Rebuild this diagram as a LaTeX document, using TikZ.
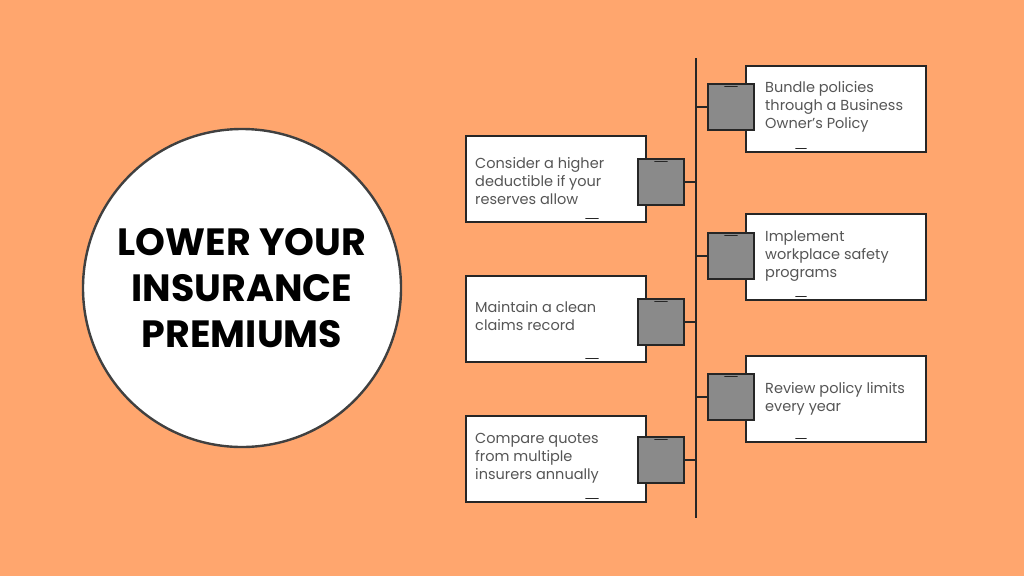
\documentclass[tikz,border=0pt]{standalone}
\usepackage{fontspec}
\setmainfont{Poppins}
\usetikzlibrary{positioning}
\definecolor{bgorange}{HTML}{FFA66E}
\definecolor{sqgray}{HTML}{8A8A8A}
\definecolor{txtgray}{HTML}{555555}
\tikzset{
  tip/.style={draw=black!85, line width=2.8pt, fill=white, minimum width=180pt, minimum height=86pt, inner sep=0pt},
  tiptext/.style={anchor=west, inner sep=0pt, align=left, font=\fontsize{14.5}{18}\selectfont, text=txtgray},
  tab/.style={draw=black!85, line width=2.8pt, fill=sqgray, minimum size=46pt, inner sep=0pt},
  link/.style={line width=2.6pt, black!85},
  scribble/.style={line width=1.6pt, black!85, line cap=round}
}
\begin{document}
\begin{tikzpicture}[x=1pt,y=-1pt]
\fill[bgorange] (0,0) rectangle (1024,576);
\useasboundingbox (0,0) rectangle (1024,576);

% title
\node (title) [circle, draw=black!75, line width=2.4pt, fill=white, minimum size=318pt, align=center,
  font=\bfseries\fontsize{38}{46}\selectfont] at (242,288) {LOWER YOUR\\INSURANCE\\PREMIUMS};

% spine
\coordinate (top) at (696,58);
\coordinate (bot) at (696,518);
\draw[link] (top) -- (bot);

% right side
\node (bundle) [tip] at (836,109) {};
\node (safety) [tip] at (836,257) {};
\node (limits) [tip] at (836,399) {};
\node (tbundle) [tiptext] at (765,107) {Bundle policies\\through a Business\\Owner’s Policy};
\node (tsafety) [tiptext] at (765,256) {Implement\\workplace safety\\programs};
\node (tlimits) [tiptext] at (765,399) {Review policy limits\\every year};

% left side
\node (deduct) [tip] at (556,179) {};
\node (claims) [tip] at (556,319) {};
\node (quotes) [tip] at (556,459) {};
\node (tdeduct) [tiptext] at (475,181) {Consider a higher\\deductible if your\\reserves allow};
\node (tclaims) [tiptext] at (475,316) {Maintain a clean\\claims record};
\node (tquotes) [tiptext] at (475,458) {Compare quotes\\from multiple\\insurers annually};

% tabs and links
\foreach \n/\x/\y in {bundle/731/107, safety/731/256, limits/731/397} {
  \coordinate (s\n) at (696,\y);
  \node (q\n) [tab] at (\x,\y) {};
  \draw[link] (s\n) -- (q\n.west);
  \draw[scribble] ([xshift=-6pt,yshift=-4pt]q\n.north) -- ([xshift=6pt,yshift=-4pt]q\n.north);
  \draw[scribble] ([xshift=-40pt,yshift=5pt]\n.south) -- ([xshift=-30pt,yshift=5pt]\n.south);
}
\foreach \n/\x/\y in {deduct/661/182, claims/661/322, quotes/661/460} {
  \coordinate (s\n) at (696,\y);
  \node (q\n) [tab] at (\x,\y) {};
  \draw[link] (q\n.east) -- (s\n);
  \draw[scribble] ([xshift=-6pt,yshift=-4pt]q\n.north) -- ([xshift=6pt,yshift=-4pt]q\n.north);
  \draw[scribble] ([xshift=30pt,yshift=5pt]\n.south) -- ([xshift=42pt,yshift=5pt]\n.south);
}
\end{tikzpicture}
\end{document}
